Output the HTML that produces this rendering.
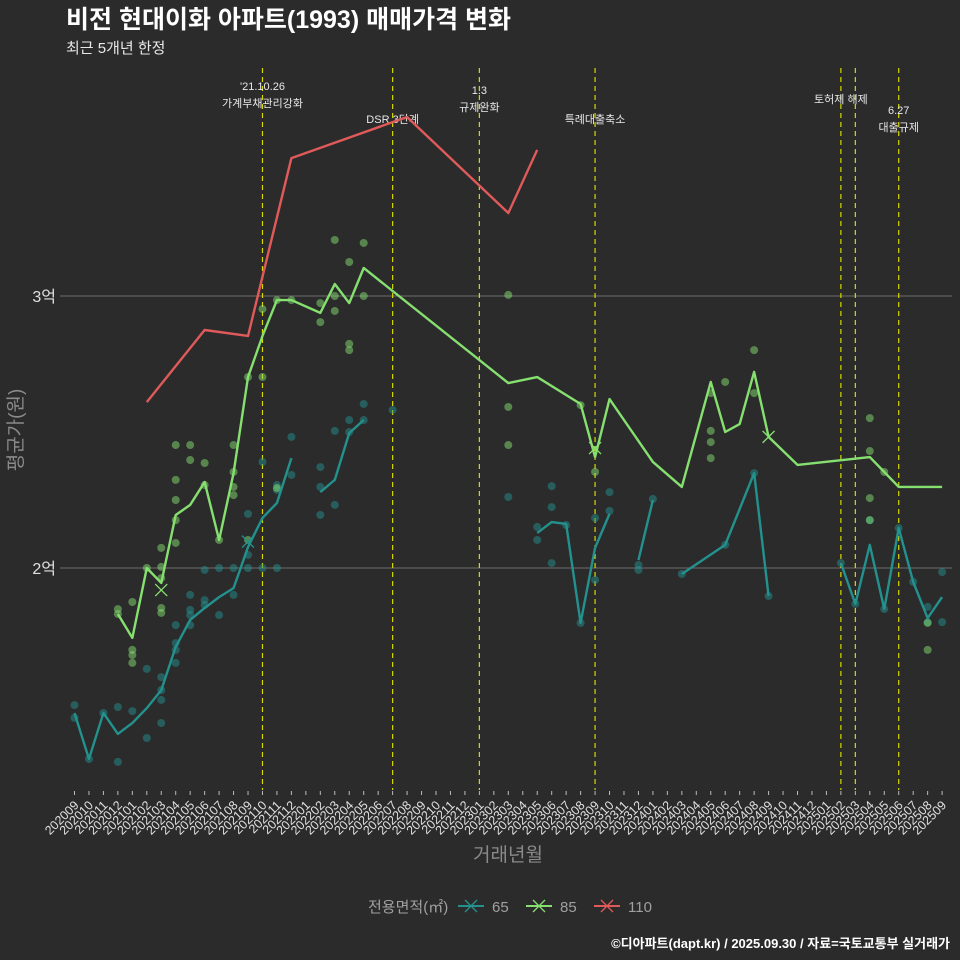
<!DOCTYPE html>
<html><head><meta charset="utf-8"><style>
body{margin:0;background:#2b2b2c;}
svg{display:block;font-family:"Liberation Sans","Noto Sans CJK KR",sans-serif;}
</style></head><body>
<svg id="c" width="960" height="960" viewBox="0 0 960 960">
<rect width="960" height="960" fill="#2b2b2c"/>
<text x="66" y="28" font-size="25" font-weight="bold" fill="#ffffff">비전 현대이화 아파트(1993) 매매가격 변화</text>
<text x="66" y="53" font-size="15" fill="#e8e8e8">최근 5개년 한정</text>
<text transform="translate(22,430) rotate(-90)" text-anchor="middle" font-size="19" fill="#8a8a8a">평균가(원)</text>
<text x="508" y="861" text-anchor="middle" font-size="19" fill="#8a8a8a">거래년월</text>
<g id="grid"></g>
<g id="ann"></g>
<g id="marks"></g>
<g id="xt"></g>
<g>
<text x="368" y="912" font-size="15" fill="#a0a0a0">전용면적(㎡)</text>
<g><line x1="458" y1="906" x2="484" y2="906" stroke="#23918d" stroke-width="2"/><path d="M465 900l12 12M477 900l-12 12" stroke="#23918d" stroke-width="1.3"/><text x="492" y="912" font-size="15" fill="#a0a0a0">65</text></g>
<g><line x1="526" y1="906" x2="552" y2="906" stroke="#86e06f" stroke-width="2"/><path d="M533 900l12 12M545 900l-12 12" stroke="#86e06f" stroke-width="1.3"/><text x="560" y="912" font-size="15" fill="#a0a0a0">85</text></g>
<g><line x1="594" y1="906" x2="620" y2="906" stroke="#e05a5a" stroke-width="2"/><path d="M601 900l12 12M613 900l-12 12" stroke="#e05a5a" stroke-width="1.3"/><text x="628" y="912" font-size="15" fill="#a0a0a0">110</text></g>
</g>
<text x="950" y="948" text-anchor="end" font-size="13" font-weight="bold" fill="#ffffff">©디아파트(dapt.kr) / 2025.09.30 / 자료=국토교통부 실거래가</text>
</svg>
<script>
const months=[];for(let y=2020,m=9;!(y===2025&&m===10);){months.push(y+String(m).padStart(2,'0'));m++;if(m>12){m=1;y++;}}
const yTicks=[2,3];
const yTickLabels=['2억','3억'];
const seg65=[
 {start:0,vals:[1.467,1.298,1.467,1.390,1.430,1.485,1.551,1.710,1.809,1.853,1.893,1.926,2.077,2.184,2.239,2.404]},
 {start:17,vals:[2.279,2.324,2.496,2.544]},
 {start:32,vals:[2.129,2.169,2.162,1.798,2.074,2.199]},
 {start:39,vals:[2.029,2.250]},
 {idx:[42,45,47,48],vals:[1.978,2.085,2.349,1.897]},
 {start:53,vals:[2.018,1.868,2.085,1.849,2.147,1.949,1.816,1.893]}];
const idx85=[3,4,5,6,7,8,9,10,11,12,13,14,15,17,18,19,20,30,32,35,36,37,40,42,44,45,46,47,48,50,55,56,57,60];
const val85=[1.831,1.743,2.0,1.945,2.195,2.232,2.316,2.103,2.349,2.702,2.853,2.985,2.985,2.938,3.044,2.974,3.103,2.680,2.702,2.603,2.408,2.621,2.390,2.298,2.684,2.500,2.529,2.721,2.482,2.379,2.408,2.353,2.298,2.298];
const idx110=[5,9,12,15,23,30,32];
const val110=[2.610,2.875,2.853,3.507,3.658,3.305,3.537];
const dots65=[[0,1.496],[0,1.449],[1,1.298],[2,1.467],[3,1.489],[3,1.287],[4,1.474],[5,1.629],[5,1.375],[6,1.599],[6,1.515],[6,1.430],[6,1.551],[7,1.790],[7,1.699],[7,1.724],[7,1.651],[8,1.901],[8,1.827],[8,1.846],[8,1.790],[9,1.993],[9,1.882],[9,1.864],[10,2.0],[10,1.827],[11,2.0],[11,1.901],[12,2.199],[12,2.048],[12,2.0],[13,2.390],[13,2.0],[14,2.287],[14,2.305],[14,2.0],[15,2.482],[15,2.342],[17,2.371],[17,2.195],[17,2.298],[18,2.504],[18,2.232],[19,2.544],[19,2.5],[20,2.603],[20,2.544],[22,2.581],[30,2.261],[32,2.151],[32,2.103],[33,2.301],[33,2.224],[33,2.018],[34,2.158],[35,1.798],[36,2.184],[36,1.956],[37,2.279],[37,2.210],[39,2.011],[39,1.993],[40,2.254],[42,1.978],[45,2.085],[47,2.349],[48,1.897],[53,2.018],[54,1.868],[55,2.176],[56,1.849],[57,2.147],[58,1.949],[59,1.857],[59,1.801],[60,1.985],[60,1.801]];
const dots85=[[3,1.849],[3,1.831],[4,1.875],[4,1.699],[4,1.651],[4,1.680],[5,2.0],[6,2.074],[6,2.004],[6,1.963],[6,1.853],[6,1.835],[7,2.452],[7,2.250],[7,2.324],[7,2.176],[7,2.092],[8,2.452],[8,2.397],[9,2.386],[9,2.305],[10,2.103],[11,2.452],[11,2.353],[11,2.298],[11,2.268],[12,2.702],[12,2.103],[13,2.952],[13,2.702],[14,2.985],[14,2.294],[15,2.985],[17,2.974],[17,2.904],[18,3.206],[18,3.0],[18,2.945],[19,2.824],[19,2.801],[19,3.125],[20,3.195],[20,3.0],[30,3.004],[30,2.592],[30,2.452],[35,2.599],[36,2.353],[44,2.643],[44,2.504],[44,2.463],[44,2.404],[45,2.684],[47,2.801],[47,2.643],[55,2.551],[55,2.430],[55,2.257],[55,2.176],[56,2.353],[59,1.699],[59,1.798]];
const xMarks=[[65,12,2.097],[85,6,1.919],[85,36,2.441],[85,48,2.482]];
const events=[[13,["'21.10.26","가계부채관리강화"],90],[22,["DSR 3단계"],123],[28,["1.3","규제완화"],94],[36,["특례대출축소"],123],[53,["토허제 해제"],103],[54,[],0],[57,["6.27","대출규제"],114]];
const X=i=>74.5+14.46*i, Y=v=>568-(v-2)*272;
const NS='http://www.w3.org/2000/svg';
function mk(p,t,a){const e=document.createElementNS(NS,t);for(const k in a)e.setAttribute(k,a[k]);p.appendChild(e);return e;}
const grid=document.getElementById('grid'),ann=document.getElementById('ann'),marks=document.getElementById('marks'),xt=document.getElementById('xt');
yTicks.forEach((v,k)=>{
 const l=mk(grid,'line',{x1:60,x2:952,y1:Y(v),y2:Y(v),stroke:'#6e6e6e','stroke-width':1});
 
 
 const t=mk(grid,'text',{x:56,y:Y(v)+6,'text-anchor':'end','font-size':16,fill:'#e0e0e0'});
 t.textContent=yTickLabels[k];
 
 
});
events.forEach(ev=>{
 const l=mk(ann,'line',{x1:X(ev[0]),x2:X(ev[0]),y1:68,y2:790,stroke:'#d8d800','stroke-width':1.2,'stroke-dasharray':'5 4'});
 
 
 ev[1].forEach((s,j)=>{
  const t=mk(ann,'text',{x:X(ev[0]),y:ev[2]+j*17,'text-anchor':'middle','font-size':11,fill:'#e8e8e8'});
  t.textContent=s;
  
  
 });
});
months.forEach((m,i)=>{
 const t=mk(xt,'line',{x1:X(i),x2:X(i),y1:791,y2:795,stroke:'#bbb','stroke-width':1});
 
 
 const ax=X(i)+5, ay=806;
 const tx=mk(xt,'text',{x:ax,y:ay,'text-anchor':'end','font-size':12.5,fill:'#e0e0e0',transform:`rotate(-45 ${ax} ${ay})`});
 tx.textContent=m;
 
 
});
function dots(arr,col,name){arr.forEach(d=>{
 const c=mk(marks,'circle',{cx:X(d[0]),cy:Y(d[1]),r:4,fill:col,'fill-opacity':0.5});
 
 
});}
dots(dots65,'#23918d','dot-65');
dots(dots85,'#86e06f','dot-85');
function line(ix,vs,col,name){
 const p=mk(marks,'polyline',{points:ix.map((i,k)=>X(i)+','+Y(vs[k])).join(' '),fill:'none',stroke:col,'stroke-width':2.4,'stroke-linejoin':'round'});
 
 
}
seg65.forEach(s=>{const ix=s.idx||s.vals.map((_,k)=>s.start+k);line(ix,s.vals,'#23918d','line-65');});
line(idx85,val85,'#86e06f','line-85');
line(idx110,val110,'#e05a5a','line-110');
const cols={65:'#23918d',85:'#86e06f',110:'#e05a5a'};
xMarks.forEach(d=>{const x=X(d[1]),y=Y(d[2]);
 const p=mk(marks,'path',{d:`M${x-6} ${y-6}L${x+6} ${y+6}M${x+6} ${y-6}L${x-6} ${y+6}`,stroke:cols[d[0]],'stroke-width':1.3});
 
 
});
</script>
</body></html>
